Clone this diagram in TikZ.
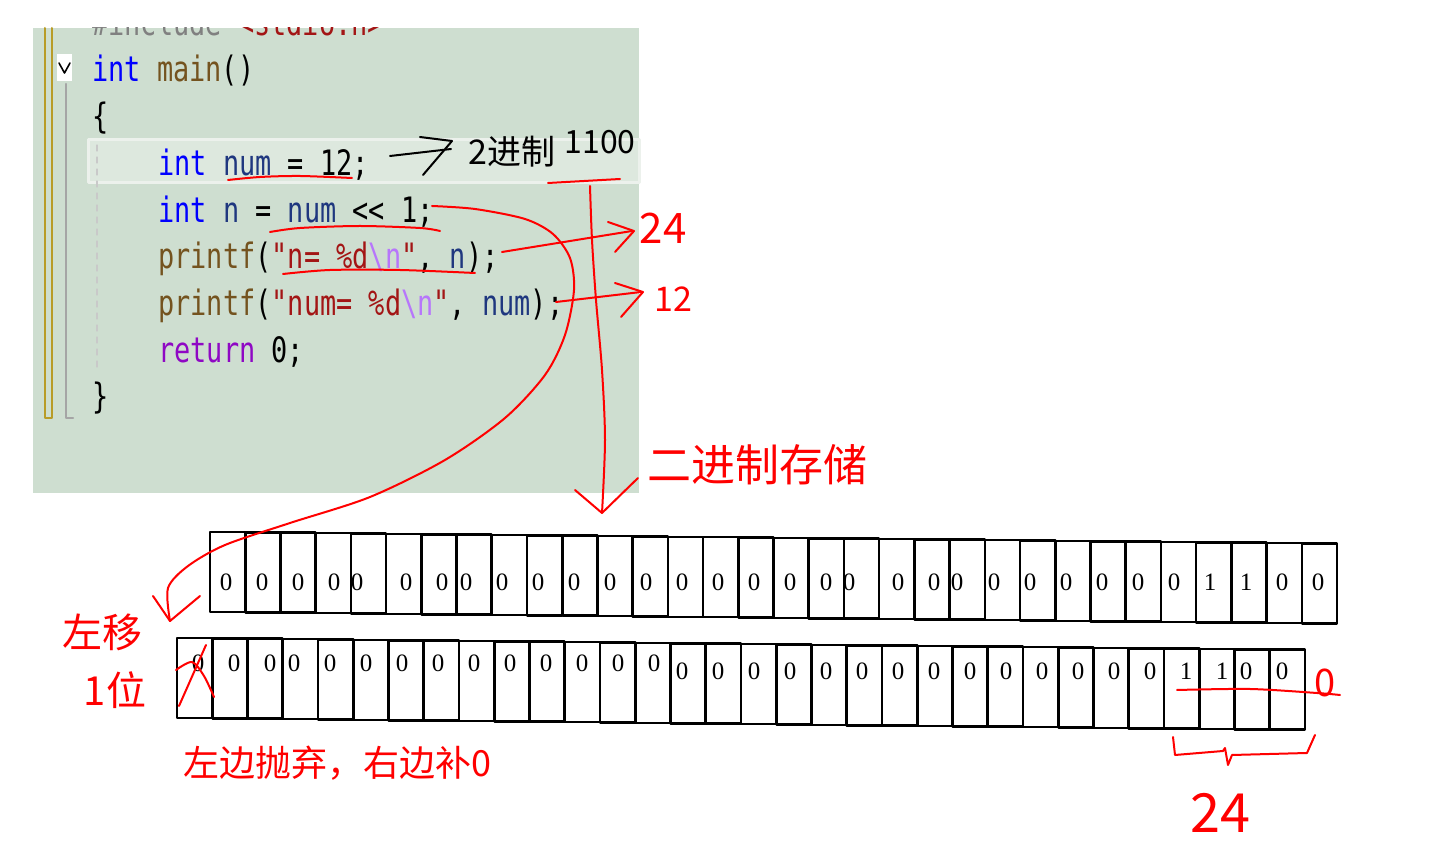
\documentclass[tikz,border=0pt]{standalone}
\usepackage{fontspec}
\setmainfont{Liberation Serif}
\newfontfamily\codefont{DejaVu Sans Mono}
\newfontfamily\cjkfont{Noto Sans CJK SC}
\definecolor{panel}{RGB}{206,222,208}
\definecolor{hiline}{RGB}{221,232,222}
\definecolor{hiborder}{RGB}{236,241,236}
\definecolor{kwblue}{RGB}{0,0,255}
\definecolor{fnbrown}{RGB}{116,83,31}
\definecolor{strred}{RGB}{163,21,21}
\definecolor{escpurple}{RGB}{183,118,251}
\definecolor{varnavy}{RGB}{31,55,127}
\definecolor{retpurple}{RGB}{143,8,196}
\definecolor{gutolive}{RGB}{184,156,40}
\definecolor{gutgray}{RGB}{165,165,165}
\definecolor{inkred}{RGB}{255,0,0}
\newcommand{\mykw}[1]{\textcolor{kwblue}{#1}}
\newcommand{\myfn}[1]{\textcolor{fnbrown}{#1}}
\newcommand{\mystr}[1]{\textcolor{strred}{#1}}
\newcommand{\myesc}[1]{\textcolor{escpurple}{#1}}
\newcommand{\myvar}[1]{\textcolor{varnavy}{#1}}
\newcommand{\myret}[1]{\textcolor{retpurple}{#1}}
\newcommand{\mygr}[1]{\textcolor{gray}{#1}}
\newcommand{\codeln}[1]{\scalebox{1}[1.3]{#1}}
\tikzset{
  codetext/.style={anchor=base west, inner sep=0pt, font=\codefont\fontsize{13.45}{16}\selectfont},
  redink/.style={draw=inkred, line width=1pt},
  blackink/.style={draw=black, line width=1pt},
  hand/.style={text=inkred, inner sep=0pt, font=\cjkfont},
  bitbox/.style={draw=black, line width=1.3pt, inner sep=0pt, minimum width=17.6pt, minimum height=40pt},
  bit/.style={inner sep=0pt, font=\fontsize{12.5}{14}\selectfont},
}
\begin{document}
\begin{tikzpicture}[x=0.5pt, y=-0.5pt, line join=round, line cap=round]
\useasboundingbox (0,0) rectangle (1437,855);
\fill[white] (0,0) rectangle (1437,855);
% code panel
\fill[panel] (33,28) rectangle (639,493);
\draw[hiborder, line width=1.5pt, fill=hiline] (88,140) rectangle (639,183);
\draw[gutolive, line width=1pt] (45,28) -- (45,418) -- (52,418) -- (52,28);
\draw[gutgray, line width=1.2pt] (66,84) -- (66,418) -- (73,418);
\draw[gutgray!60, line width=0.6pt, dashed] (97,145) -- (97,372);
\node[fill=white, minimum width=7.5pt, minimum height=13.5pt, inner sep=0pt] (fold) at (64.5,68) {};
\draw[black, line width=0.8pt] (59,63) -- (64.5,73) -- (70,63);
\begin{scope}
\clip (33,28) rectangle (639,493);
\node[codetext] (l0) at (92,36) {\codeln{\mygr{\#include} \mystr{<stdio.h>}}};
\end{scope}
\node[codetext] (l1) at (92,82) {\codeln{\mykw{int} \myfn{main}()}};
\node[codetext] (l2) at (92,128.7) {\codeln{\{}};
\node[codetext] (l3) at (158,175.4) {\codeln{\mykw{int} \myvar{num} = 12;}};
\node[codetext] (l4) at (158,222.1) {\codeln{\mykw{int} \myvar{n} = \myvar{num} << 1;}};
\node[codetext] (l5) at (158,268.8) {\codeln{\myfn{printf}(\mystr{"n= \%d}\myesc{\textbackslash n}\mystr{"}, \myvar{n});}};
\node[codetext] (l6) at (158,315.5) {\codeln{\myfn{printf}(\mystr{"num= \%d}\myesc{\textbackslash n}\mystr{"}, \myvar{num});}};
\node[codetext] (l7) at (158,362.2) {\codeln{\myret{return} 0;}};
\node[codetext] (l8) at (92,408.9) {\codeln{\}}};
% bit boxes
\foreach \i in {0,...,31}{
  \pgfmathsetmacro{\tx}{210+17.61+\i*35.22}
  \pgfmathsetmacro{\ty}{572+\i*0.37}
  \node[bitbox] (t\i) at (\tx,\ty) {};
  \pgfmathsetmacro{\bx}{177+17.62+\i*35.25}
  \pgfmathsetmacro{\by}{678+\i*0.38}
  \node[bitbox] (b\i) at (\bx,\by) {};
}
\foreach \x/\d [count=\k] in {226/0,262/0,298/0,334/0,357/0,406/0,442/0,466/0,502/0,538/0,574/0,610/0,646/0,682/0,718/0,754/0,790/0,826/0,849/0,898/0,934/0,957/0,994/0,1030/0,1066/0,1102/0,1138/0,1174/0,1210/1,1246/1,1282/0,1318/0}
  \node[bit] (td\k) at (\x,582) {\d};
\foreach \x/\d [count=\k] in {198/0,234/0,270/0,294/0,330/0,366/0,402/0,438/0,474/0,510/0,546/0,582/0,618/0,654/0}
  \node[bit] (bd\k) at (\x,663) {\d};
\foreach \x/\d [count=\k] in {682/0,718/0,754/0,790/0,826/0,862/0,898/0,934/0,970/0,1006/0,1042/0,1078/0,1114/0,1150/0,1186/1,1222/1,1246/0,1282/0}
  \node[bit] (be\k) at (\x,671) {\d};
% black annotation
\coordinate (ba1) at (390,156);
\coordinate (ba2) at (451,149);
\draw[blackink] (ba1) -- (ba2);
\draw[blackink] (420,137) -- (452,141) -- (423,175);
\node[hand, text=black, font=\cjkfont\fontsize{17}{17}\selectfont] (bin) at (512,152) {2进制};
\node[hand, text=black, font=\cjkfont\fontsize{16}{16}\selectfont] (b1100) at (600,142) {1100};
% red underlines
\draw[redink] plot[smooth] coordinates {(228,180) (260,177) (300,176) (352,178)};
\draw[redink] (548,183) -- (620,179);
\draw[redink] plot[smooth] coordinates {(270,232) (300,228) (360,226) (420,228) (440,231)};
\draw[redink] plot[smooth] coordinates {(283,274) (330,270) (400,270) (475,273)};
% long curve to left-shift label
\coordinate (cs) at (432,206);
\coordinate (ce) at (170,621);
\draw[redink] plot[smooth] coordinates {(cs) (475,209) (525,219) (553,234) (570,258) (574,290) (565,335) (545,375) (505,418) (445,460) (370,497) (290,523) (225,545) (188,566) (168,588) (ce)};
\draw[redink] (153,596) -- (ce) -- (200,596);
% arrow to 24
\node[hand, font=\cjkfont\fontsize{21}{21}\selectfont] (v24) at (663,228) {24};
\coordinate (a24s) at (502,252);
\coordinate (a24e) at (632,231);
\draw[redink] (a24s) -- (a24e);
\draw[redink] (608,222) -- (634,231) -- (615,252);
% arrow to 12
\node[hand, font=\cjkfont\fontsize{17}{17}\selectfont] (v12) at (673,299) {12};
\coordinate (a12s) at (556,302);
\coordinate (a12e) at (641,292);
\draw[redink] (a12s) -- (a12e);
\draw[redink] (615,283) -- (643,292) -- (621,317);
% vertical arrow
\coordinate (vs) at (590,186);
\coordinate (ve) at (602,513);
\draw[redink] plot[smooth] coordinates {(vs) (592,240) (596,300) (602,370) (605,440) (ve)};
\draw[redink] (575,490) -- (ve) -- (638,478);
\node[hand, font=\cjkfont\fontsize{22}{22}\selectfont] (store) at (757,465) {二进制存储};
% left labels
\node[hand, font=\cjkfont\fontsize{20}{20}\selectfont] (lsh) at (102,632) {左移};
\node[hand, font=\cjkfont\fontsize{20}{20}\selectfont] (one) at (115,690) {1位};
\node[hand, font=\cjkfont\fontsize{18}{18}\selectfont] (drop) at (337,763) {左边抛弃，右边补0};
% cross on the first bit
\draw[redink] (179,706) -- (206,645);
\draw[redink] plot[smooth] coordinates {(176,670) (192,662) (204,676) (214,697)};
% strike and added zero
\node[hand, font=\cjkfont\fontsize{19}{19}\selectfont] (z0) at (1325,683) {0};
\draw[redink] plot[smooth] coordinates {(1177,690) (1250,689) (1317,693) (1340,695)};
% brace
\draw[redink] (1173,737) -- (1175,755) -- (1223,751) -- (1225,748) -- (1228,765) -- (1232,755) -- (1307,753) -- (1315,735);
\node[hand, font=\cjkfont\fontsize{27}{27}\selectfont] (v24b) at (1220,813) {24};
\end{tikzpicture}
\end{document}
